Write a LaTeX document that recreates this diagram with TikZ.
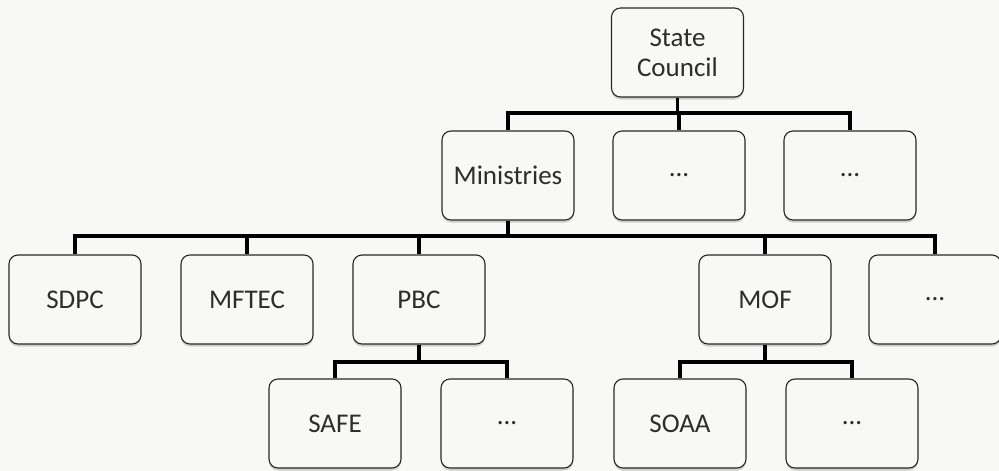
\documentclass[tikz,border=0pt]{standalone}
\usepackage{fontspec}
\setmainfont{Carlito}
\usetikzlibrary{shadows}
\definecolor{bg}{RGB}{248,248,246}
\definecolor{txt}{RGB}{45,45,45}
\definecolor{edge}{RGB}{40,40,40}
\begin{document}
\begin{tikzpicture}[x=1pt,y=-1pt,
  box/.style={draw=edge, line width=1.1pt, rounded corners=9pt, fill=bg,
    minimum width=132pt, minimum height=89pt, inner sep=0pt, align=center,
    text=txt, font=\fontsize{27}{30}\selectfont,
    drop shadow={shadow xshift=0pt, shadow yshift=-2.5pt, opacity=0.35, fill=gray}},
  conn/.style={line width=3.6pt, draw=black, line join=miter}]
\fill[bg] (0,0) rectangle (999,471);
\useasboundingbox (0,0) rectangle (999,471);
% level 1
\node[box] (sc) at (677.5,52.5) {State\\Council};
% level 2
\node[box] (min) at (508,175.5) {Ministries};
\node[box] (d1) at (679,175.5) {...};
\node[box] (d2) at (850,175.5) {...};
% level 3
\node[box] (sdpc) at (75,299.5) {SDPC};
\node[box] (mftec) at (247,299.5) {MFTEC};
\node[box] (pbc) at (419,299.5) {PBC};
\node[box] (mof) at (765,299.5) {MOF};
\node[box] (d3) at (935,299.5) {...};
% level 4
\node[box] (safe) at (335,423.5) {SAFE};
\node[box] (d4) at (507,423.5) {...};
\node[box] (soaa) at (680,423.5) {SOAA};
\node[box] (d5) at (852,423.5) {...};
% bus coordinates
\coordinate (b1) at (0,113);
\coordinate (b2) at (0,236);
\coordinate (b3) at (0,362);
% connectors
\foreach \c in {min,d1,d2}
  \draw[conn] (sc.south) -- (sc.south |- b1) -| (\c.north);
\foreach \c in {sdpc,mftec,pbc,mof,d3}
  \draw[conn] (min.south) -- (min.south |- b2) -| (\c.north);
\foreach \c in {safe,d4}
  \draw[conn] (pbc.south) -- (pbc.south |- b3) -| (\c.north);
\foreach \c in {soaa,d5}
  \draw[conn] (mof.south) -- (mof.south |- b3) -| (\c.north);
\end{tikzpicture}
\end{document}
